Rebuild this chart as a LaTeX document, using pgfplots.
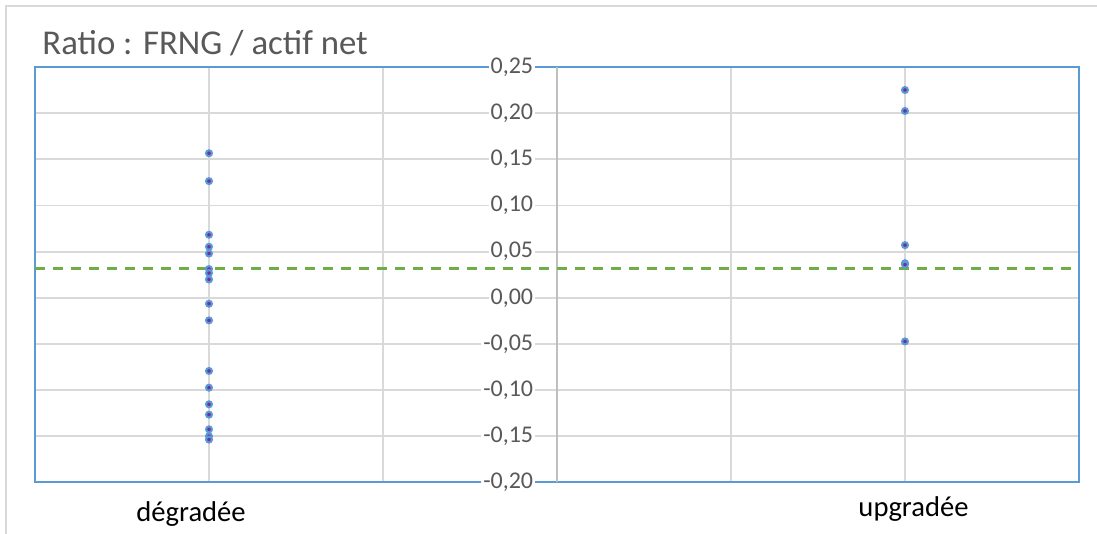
\documentclass[border=0pt]{standalone}
\usepackage{pgfplots}
\pgfplotsset{compat=1.18}
\usepackage{fontspec}
\setmainfont{Carlito}
\definecolor{gridc}{RGB}{217,217,217}
\definecolor{framec}{RGB}{91,155,213}
\definecolor{axc}{RGB}{191,191,191}
\definecolor{txt}{RGB}{89,89,89}
\definecolor{greenl}{RGB}{112,173,71}
\definecolor{mfill}{RGB}{112,48,160}
\begin{document}
\begin{tikzpicture}
\useasboundingbox (-17.5pt,-25.75pt) rectangle (531pt,241.25pt);
\draw[gridc, line width=1pt] (-14.5pt,-26pt) -- (-14.5pt,238.25pt) -- (532pt,238.25pt);
\begin{axis}[
  at={(0,0)}, anchor=south west,
  scale only axis, width=522pt, height=207.75pt,
  xmin=0, xmax=6, ymin=-0.2, ymax=0.25,
  xtick={1,2,4,5}, xticklabels={},
  major tick length=0pt,
  ytick={-0.2,-0.15,-0.1,-0.05,0,0.05,0.1,0.15,0.2,0.25},
  yticklabels={{-0,20},{-0,15},{-0,10},{-0,05},{0,00},{0,05},{0,10},{0,15},{0,20},{0,25}},
  grid=major, grid style={gridc, line width=0.9pt},
  axis line style={framec, line width=1pt},
  yticklabel style={anchor=east, xshift=250.25pt, fill=white, inner sep=1pt,
    font=\fontsize{12pt}{13pt}\selectfont, text=txt},
  extra x ticks={0.8966,5.049},
  extra x tick labels={\raisebox{-2.5pt}{dégradée},upgradée},
  extra x tick style={grid=none, xticklabel style={anchor=base, yshift=-17.25pt,
    font=\fontsize{14.3pt}{16pt}\selectfont, text=black}},
  clip=false,
]
\draw[axc, line width=1pt] (axis cs:3,-0.2) -- (axis cs:3,0.25);
\addplot[greenl, line width=1.35pt, dash pattern=on 5pt off 4pt] coordinates {(0,0.0315) (6,0.0315)};
\addplot[only marks, mark=*, mark size=1.5pt, mark options={fill=mfill, draw=framec, line width=1pt}]
coordinates {
(1,0.1566) (1,0.1264) (1,0.0683) (1,0.0553) (1,0.0480) (1,0.0312) (1,0.0268) (1,0.0199)
(1,-0.0064) (1,-0.0244) (1,-0.0792) (1,-0.0973) (1,-0.1153) (1,-0.1265) (1,-0.1424)
(1,-0.1499) (1,-0.1535)
(5,0.2251) (5,0.2024) (5,0.0571) (5,0.0375) (5,0.0360) (5,-0.0472)
};
\end{axis}
\node[anchor=base west, text=txt, font=\fontsize{17.4pt}{20pt}\selectfont, inner sep=0pt] at (3.5pt,213.75pt) {Ratio : FRNG / actif net};
\end{tikzpicture}
\end{document}
